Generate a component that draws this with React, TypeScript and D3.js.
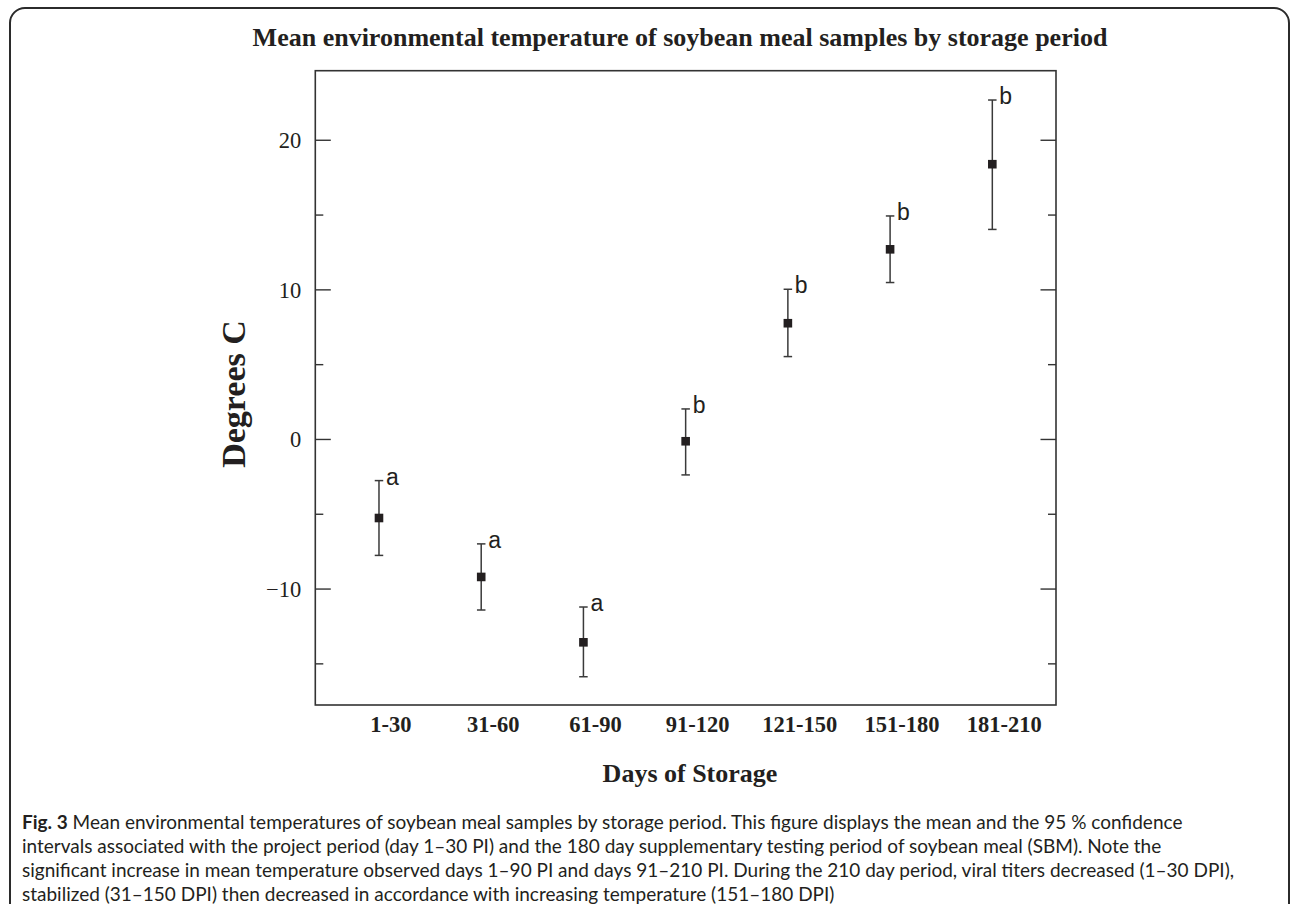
import React from "react";
import * as d3 from "d3";

const categories = ["1-30", "31-60", "61-90", "91-120", "121-150", "151-180", "181-210"];
const means = [-5.25, -9.19, -13.56, -0.12, 7.77, 12.71, 18.4];
const upperCI = [-2.75, -6.98, -11.2, 2.04, 10.04, 14.94, 22.69];
const lowerCI = [-7.75, -11.4, -15.86, -2.37, 5.54, 10.49, 14.04];
const groupLetters = ["a", "a", "a", "b", "b", "b", "b"];
const yDomain = [-17.75, 24.65];
const majorTicks = [-10, 0, 10, 20];
const minorTicks = [-15, -5, 5, 15];

const title = "Mean environmental temperature of soybean meal samples by storage period";
const yTitle = "Degrees C";
const xTitle = "Days of Storage";
const captionBold = "Fig. 3";
const captionLines = [
  " Mean environmental temperatures of soybean meal samples by storage period. This figure displays the mean and the 95 % confidence",
  "intervals associated with the project period (day 1\u201330 PI) and the 180 day supplementary testing period of soybean meal (SBM). Note the",
  "significant increase in mean temperature observed days 1\u201390 PI and days 91\u2013210 PI. During the 210 day period, viral titers decreased (1\u201330 DPI),",
  "stabilized (31\u2013150 DPI) then decreased in accordance with increasing temperature (151\u2013180 DPI)",
];

const W = 1292;
const H = 904;
const plot = { left: 315.3, right: 1056, top: 70.7, bottom: 705 };
const ink = "#231f20";
const serif = "'Liberation Serif', 'Times New Roman', serif";
const sans = "'Liberation Sans', Arial, sans-serif";

export default function App() {
  const x = d3
    .scalePoint<string>()
    .domain(categories)
    .range([plot.left, plot.right])
    .padding(0.623);
  const y = d3.scaleLinear().domain(yDomain).range([plot.bottom, plot.top]);
  const fmt = (v: number) => (v < 0 ? "\u2212" + Math.abs(v) : String(v));
  const capW = 8.5;
  const sq = 8.6;

  return (
    <svg
      width={W}
      height={H}
      viewBox={`0 0 ${W} ${H}`}
      style={{ position: "absolute", left: 0, top: 0, background: "#fff" }}
    >
      <rect x={0} y={0} width={W} height={H} fill="#fff" />
      {/* outer figure frame */}
      <rect x={10} y={8} width={1279} height={940} rx={15} ry={15} fill="none" stroke="#2b2b2b" strokeWidth={2} />

      {/* title */}
      <text x={680} y={46} textAnchor="middle" fontFamily={serif} fontWeight="bold" fontSize={26} fill={ink}>
        {title}
      </text>

      {/* plot frame */}
      <rect
        x={plot.left}
        y={plot.top}
        width={plot.right - plot.left}
        height={plot.bottom - plot.top}
        fill="none"
        stroke="#333"
        strokeWidth={1.6}
      />

      {/* ticks */}
      {majorTicks.map((t) => (
        <g key={"M" + t}>
          <line x1={plot.left} x2={plot.left + 15.5} y1={y(t)} y2={y(t)} stroke="#333" strokeWidth={1.4} />
          <line x1={plot.right} x2={plot.right - 15.5} y1={y(t)} y2={y(t)} stroke="#333" strokeWidth={1.4} />
          <text
            x={plot.left - 14}
            y={y(t)}
            dy="0.35em"
            textAnchor="end"
            fontFamily={serif}
            fontSize={22.5}
            fill={ink}
          >
            {fmt(t)}
          </text>
        </g>
      ))}
      {minorTicks.map((t) => (
        <g key={"m" + t}>
          <line x1={plot.left} x2={plot.left + 8} y1={y(t)} y2={y(t)} stroke="#333" strokeWidth={1.4} />
          <line x1={plot.right} x2={plot.right - 8} y1={y(t)} y2={y(t)} stroke="#333" strokeWidth={1.4} />
        </g>
      ))}

      {/* x category labels */}
      {categories.map((c) => (
        <text
          key={c}
          x={(x(c) as number) + 12}
          y={732}
          textAnchor="middle"
          fontFamily={serif}
          fontWeight="bold"
          fontSize={22.5}
          fill={ink}
        >
          {c}
        </text>
      ))}

      {/* error bars and means */}
      {categories.map((c, i) => {
        const cx = x(c) as number;
        const yu = y(upperCI[i]);
        const yl = y(lowerCI[i]);
        const ym = y(means[i]);
        return (
          <g key={"e" + c}>
            <line x1={cx} x2={cx} y1={yu} y2={yl} stroke="#3a3a3a" strokeWidth={1.5} />
            <line x1={cx - capW / 2} x2={cx + capW / 2} y1={yu} y2={yu} stroke="#3a3a3a" strokeWidth={1.5} />
            <line x1={cx - capW / 2} x2={cx + capW / 2} y1={yl} y2={yl} stroke="#3a3a3a" strokeWidth={1.5} />
            <rect x={cx - sq / 2} y={ym - sq / 2} width={sq} height={sq} fill="#231f20" />
            <text x={cx + 7} y={yu + 4} fontFamily={sans} fontSize={23} fill={ink}>
              {groupLetters[i]}
            </text>
          </g>
        );
      })}

      {/* axis titles */}
      <text
        transform={`translate(245, 394) rotate(-90)`}
        textAnchor="middle"
        fontFamily={serif}
        fontWeight="bold"
        fontSize={34}
        fill={ink}
      >
        {yTitle}
      </text>
      <text x={690} y={782} textAnchor="middle" fontFamily={serif} fontWeight="bold" fontSize={26} fill={ink}>
        {xTitle}
      </text>

      {/* caption */}
      {captionLines.map((line, i) => (
        <text key={"c" + i} x={22} y={829 + i * 24} fontFamily="Lato, 'Open Sans', sans-serif" fontSize={19} fill={ink}>
          {i === 0 ? (
            <>
              <tspan fontWeight="bold">{captionBold}</tspan>
              <tspan>{line}</tspan>
            </>
          ) : (
            line
          )}
        </text>
      ))}
    </svg>
  );
}
